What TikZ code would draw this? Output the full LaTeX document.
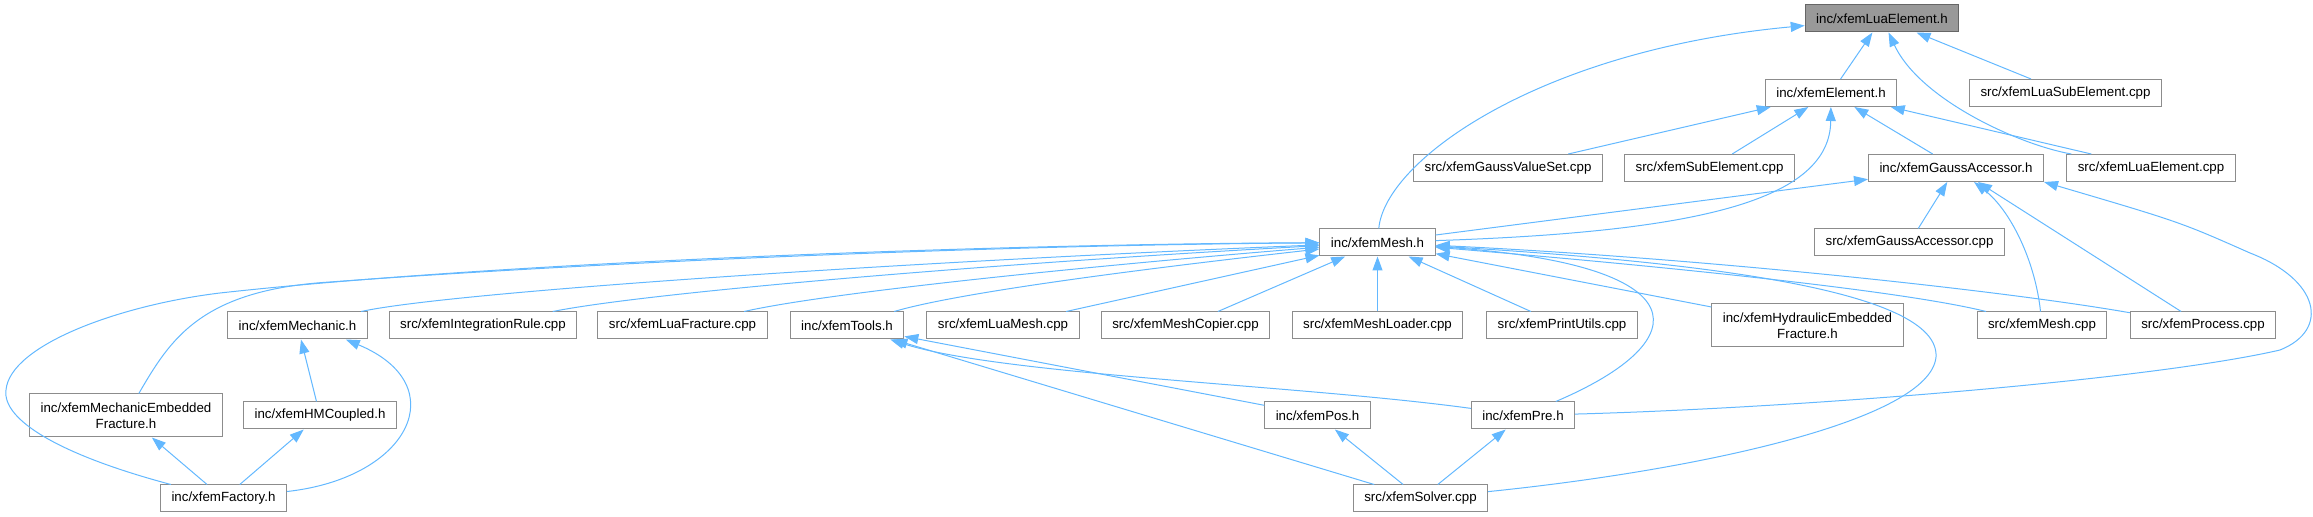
\documentclass[tikz,border=0pt]{standalone}
\usepackage{fontspec}
\setmainfont{Liberation Sans}
\usetikzlibrary{arrows.meta}
\definecolor{edgeblue}{HTML}{63B8FF}
\tikzset{
  file/.style={draw=black!45,fill=white,line width=1bp,inner xsep=11bp,inner ysep=0pt,
    minimum height=27bp,font=\fontsize{13.3bp}{15.5bp}\selectfont,text=black},
  root/.style={file,fill=black!40,draw=black!60},
  twoline/.style={file,align=center,minimum height=43bp},
  dep/.style={draw=edgeblue,line width=1bp,-{Triangle[length=14bp,width=10bp]}}
}
\begin{document}
\begin{tikzpicture}
  \useasboundingbox (0bp,0bp) rectangle (2313bp,517bp);
  \node (LuaElementH) at (1882bp,498.5bp) [root] {inc/xfemLuaElement.h};
  \node (ElementH) at (1831bp,424bp) [file] {inc/xfemElement.h};
  \node (LuaSubElementCpp) at (2065.5bp,424bp) [file] {src/xfemLuaSubElement.cpp};
  \node (GaussValueSetCpp) at (1508bp,349bp) [file] {src/xfemGaussValueSet.cpp};
  \node (SubElementCpp) at (1709.5bp,349bp) [file] {src/xfemSubElement.cpp};
  \node (GaussAccessorH) at (1956bp,349bp) [file] {inc/xfemGaussAccessor.h};
  \node (LuaElementCpp) at (2151bp,349bp) [file] {src/xfemLuaElement.cpp};
  \node (MeshH) at (1377.5bp,274.5bp) [file] {inc/xfemMesh.h};
  \node (GaussAccessorCpp) at (1909.5bp,274.5bp) [file] {src/xfemGaussAccessor.cpp};
  \node (MechanicH) at (297.5bp,191.5bp) [file] {inc/xfemMechanic.h};
  \node (IntegrationRuleCpp) at (483bp,191.5bp) [file] {src/xfemIntegrationRule.cpp};
  \node (LuaFractureCpp) at (682.5bp,191.5bp) [file] {src/xfemLuaFracture.cpp};
  \node (ToolsH) at (847bp,191.5bp) [file] {inc/xfemTools.h};
  \node (LuaMeshCpp) at (1003bp,191.5bp) [file] {src/xfemLuaMesh.cpp};
  \node (MeshCopierCpp) at (1185.5bp,191.5bp) [file] {src/xfemMeshCopier.cpp};
  \node (MeshLoaderCpp) at (1377.5bp,191.5bp) [file] {src/xfemMeshLoader.cpp};
  \node (PrintUtilsCpp) at (1562bp,191.5bp) [file] {src/xfemPrintUtils.cpp};
  \node (HydraulicFractureH) at (1807.5bp,191.5bp) [twoline] {inc/xfemHydraulicEmbedded\\Fracture.h};
  \node (MeshCpp) at (2042bp,191.5bp) [file] {src/xfemMesh.cpp};
  \node (ProcessCpp) at (2203bp,191.5bp) [file] {src/xfemProcess.cpp};
  \node (MechanicFractureH) at (126bp,101.5bp) [twoline] {inc/xfemMechanicEmbedded\\Fracture.h};
  \node (HMCoupledH) at (320bp,101.5bp) [file] {inc/xfemHMCoupled.h};
  \node (PosH) at (1317.5bp,101.5bp) [file] {inc/xfemPos.h};
  \node (PreH) at (1523bp,101.5bp) [file] {inc/xfemPre.h};
  \node (FactoryH) at (223.5bp,18.5bp) [file] {inc/xfemFactory.h};
  \node (SolverCpp) at (1420.5bp,18.5bp) [file] {src/xfemSolver.cpp};
  \draw [dep] (ElementH) -- (LuaElementH);
  \draw [dep] (LuaSubElementCpp) -- (LuaElementH);
  \draw [dep] (LuaElementCpp) .. controls (2020bp,372bp) and (1920bp,417bp) .. (LuaElementH);
  \draw [dep] (MeshH) .. controls (1385bp,357bp) and (1540bp,467bp) .. (LuaElementH);
  \draw [dep] (GaussValueSetCpp) -- (ElementH);
  \draw [dep] (SubElementCpp) -- (ElementH);
  \draw [dep] (MeshH) .. controls (1700bp,285bp) and (1830bp,317bp) .. (ElementH);
  \draw [dep] (GaussAccessorH) -- (ElementH);
  \draw [dep] (LuaElementCpp) -- (ElementH);
  \draw [dep] (MeshH) -- (GaussAccessorH);
  \draw [dep] (GaussAccessorCpp) -- (GaussAccessorH);
  \draw [dep] (MeshCpp) .. controls (2035bp,257bp) and (2010bp,307bp) .. (GaussAccessorH);
  \draw [dep] (ProcessCpp) -- (GaussAccessorH);
  \draw [dep] (PreH) .. controls (1800bp,109bp) and (2150bp,137bp) .. (2280bp,167bp) .. controls (2330bp,187bp) and (2320bp,237bp) .. (2250bp,264bp) .. controls (2180bp,295bp) .. (GaussAccessorH.south east);
  \draw [dep] (MechanicH) .. controls (450bp,225bp) and (900bp,255bp) .. (MeshH);
  \draw [dep] (IntegrationRuleCpp) .. controls (650bp,225bp) and (1000bp,254bp) .. (MeshH);
  \draw [dep] (LuaFractureCpp) .. controls (830bp,225bp) and (1100bp,252bp) .. (MeshH);
  \draw [dep] (ToolsH) .. controls (960bp,225bp) and (1150bp,249bp) .. (MeshH);
  \draw [dep] (LuaMeshCpp) -- (MeshH);
  \draw [dep] (MeshCopierCpp) -- (MeshH);
  \draw [dep] (MeshLoaderCpp) -- (MeshH);
  \draw [dep] (PrintUtilsCpp) -- (MeshH);
  \draw [dep] (HydraulicFractureH) -- (MeshH);
  \draw [dep] (MeshCpp) .. controls (1900bp,227bp) and (1650bp,252bp) .. (MeshH);
  \draw [dep] (ProcessCpp) .. controls (2000bp,227bp) and (1700bp,259bp) .. (MeshH);
  \draw [dep] (MechanicFractureH) .. controls (170bp,177bp) and (200bp,227bp) .. (330bp,235bp) .. controls (600bp,255bp) and (1000bp,272bp) .. (MeshH);
  \draw [dep] (FactoryH) .. controls (60bp,62bp) and (2bp,97bp) .. (6bp,127bp) .. controls (10bp,172bp) and (120bp,212bp) .. (220bp,224bp) .. controls (500bp,255bp) and (1000bp,273bp) .. (MeshH);
  \draw [dep] (PreH) .. controls (1700bp,177bp) and (1700bp,252bp) .. (MeshH);
  \draw [dep] (SolverCpp) .. controls (1700bp,47bp) and (1930bp,97bp) .. (1936bp,160bp) .. controls (1940bp,227bp) and (1700bp,255bp) .. (MeshH);
  \draw [dep] (HMCoupledH) -- (MechanicH);
  \draw [dep] (FactoryH) .. controls (410bp,39bp) and (455bp,132bp) .. ([xshift=-22bp]MechanicH.south east);
  \draw [dep] (FactoryH) -- (MechanicFractureH);
  \draw [dep] (FactoryH) -- (HMCoupledH);
  \draw [dep] (PosH) -- (ToolsH);
  \draw [dep] (PreH) .. controls (1300bp,132bp) and (1000bp,142bp) .. (ToolsH);
  \draw [dep] (SolverCpp) -- (ToolsH);
  \draw [dep] (SolverCpp) -- (PosH);
  \draw [dep] (SolverCpp) -- (PreH);
\end{tikzpicture}
\end{document}
